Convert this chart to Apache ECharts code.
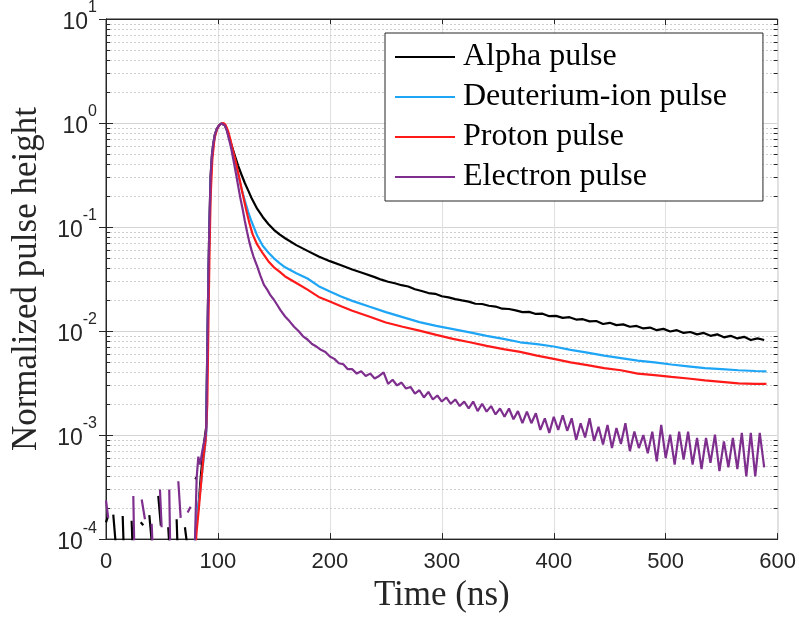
<!DOCTYPE html>
<html><head><meta charset="utf-8">
<script src="https://cdn.jsdelivr.net/npm/echarts@6/dist/echarts.min.js"></script>
<style>html,body{margin:0;padding:0;background:#fff}#c{width:799px;height:618px}</style>
</head><body><div id="c"></div>
<script>
const xTicks = [0, 100, 200, 300, 400, 500, 600];
const seriesNames = ['Alpha pulse', 'Deuterium-ion pulse', 'Proton pulse', 'Electron pulse'];
const seriesColors = ['#000000', '#1ea5f5', '#ff1a1a', '#7e2f8e'];

// [time (ns), normalized height]; null = gap (non-positive sample)
const alphaPulse = [
[0,1.45e-4],[1.5,1.62e-4],[3,null],
[6.5,1.72e-4],[9.5,7e-5],[11,null],
[14.9,1.67e-4],[16.5,5e-5],[19,null],
[22.9,1.5e-4],[24.5,5e-5],[27,null],
[31,1.45e-4],[33.3,1.36e-4],[35,null],
[38.7,1.7e-4],[42.5,6e-5],[44,null],
[46.7,2.6e-4],[49,1.35e-4],[51,null],
[55.6,1.3e-4],[57.1,7e-5],[60,null],
[63.1,1.55e-4],[64.6,5e-5],[67,null],
[70.5,1.3e-4],[73,8e-5],[76,null],
[79.5,3.9e-4],[81,3.8e-4],[81.8,null],
[82.4,1.9e-4],[84.5,3.8e-4],[87,7.5e-4],[89.5,1.2e-3],[90.5,7e-3],[91.5,0.035],[92.3,0.1],[93.4,0.3],[94.5,0.47],[95.8,0.63],[97.3,0.78],[99,0.88],[101,0.95],[103,0.99],[104,1.0],[106,0.96],[108,0.86],[110,0.72],[112,0.62],[115,0.49],[118,0.39],[121,0.32],[124,0.265],[127,0.225],[130,0.19],[135,0.15],[140,0.125],[145,0.107],[150,0.094],[155,0.085],[160,0.078],[170,0.067],[180,0.059],[190,0.052],[200,0.047],[210,0.043],[220,0.039],[230,0.036],[240,0.033],
[246,0.0312],[252,0.0298],[258,0.0288],[264,0.0276],[270,0.0268],[276,0.0252],[282,0.0243],[288,0.0232],[294,0.0228],[300,0.0216],[306,0.0211],[312,0.0203],[318,0.0197],[324,0.0192],[330,0.0183],[336,0.0182],[342,0.0175],[348,0.0172],[354,0.0164],[360,0.0163],[366,0.0158],[372,0.0152],[378,0.0153],[384,0.0146],[390,0.0147],[396,0.0139],[402,0.0140],[408,0.0134],[414,0.0136],[420,0.0129],[426,0.0130],[432,0.0124],[438,0.0125],[444,0.0117],[450,0.0120],[456,0.0114],[462,0.0116],[468,0.0110],[474,0.0112],[480,0.0106],[486,0.0108],[492,0.0102],[498,0.0105],[504,0.0099],[510,0.0102],[516,0.0096],[522,0.0098],[528,0.0093],[534,0.0096],[540,0.0090],[546,0.0093],[552,0.0087],[558,0.0090],[564,0.0085],[570,0.0088],[576,0.0082],[582,0.0085],[588,0.0082]
];

const deuteriumPulse = [
[78,5e-5],[80,1.2e-4],[82,1.9e-4],[84,2.8e-4],[86,4.5e-4],[88,7e-4],[89.5,1.0e-3],[90.5,6e-3],[91.5,0.03],[92.4,0.09],[93.5,0.28],[94.7,0.46],[96,0.62],[97.5,0.77],[99,0.87],[101,0.95],[103,0.99],[104.5,1.0],[106,0.97],[108,0.87],[110,0.72],[112,0.6],[115,0.44],[118,0.32],[121,0.235],[124,0.18],[127,0.14],[130,0.113],[135,0.083],[140,0.066],[145,0.057],[150,0.050],[155,0.045],[160,0.041],[170,0.036],[180,0.032],[190,0.027],[200,0.024],[210,0.0215],[220,0.0195],[235,0.0172],[250,0.0152],[265,0.0136],[280,0.0122],[295,0.0112],[310,0.01045],[325,0.0097],[340,0.0090],[355,0.0084],[370,0.0078],[385,0.0075],[400,0.0071],[415,0.0066],[430,0.0062],[445,0.0058],[460,0.0055],[475,0.0052],[490,0.0050],[505,0.00477],[520,0.00458],[535,0.0044],[550,0.0043],[565,0.0042],[580,0.00413],[590,0.0041]
];

const protonPulse = [
[79,6e-5],[81,1.2e-4],[83,2e-4],[85,3.5e-4],[87,6e-4],[89,9e-4],[90.5,2e-3],[91.5,0.012],[92.5,0.06],[93.5,0.2],[95,0.45],[97,0.72],[99,0.86],[101,0.95],[103,0.99],[105,1.0],[107,0.95],[109,0.84],[111,0.7],[113,0.57],[116,0.42],[119,0.3],[122,0.21],[125,0.15],[128,0.11],[131,0.085],[135,0.068],[140,0.056],[145,0.047],[150,0.041],[155,0.0372],[160,0.0335],[170,0.029],[180,0.025],[190,0.0213],[200,0.0192],[210,0.0173],[220,0.0157],[235,0.0138],[250,0.0121],[265,0.011],[280,0.0101],[295,0.0092],[310,0.0084],[325,0.0078],[340,0.0072],[355,0.0067],[370,0.0063],[385,0.0058],[400,0.0054],[415,0.0050],[430,0.0047],[445,0.0044],[460,0.0042],[475,0.0039],[490,0.00377],[505,0.00363],[520,0.0035],[535,0.00336],[550,0.00325],[565,0.00314],[580,0.00311],[590,0.0031]
];

const electronPulse = [
[0,2.35e-4],[2,1.6e-4],[4,null],
[24.4,2.6e-4],[26,3e-5],[28,null],
[31.9,2.4e-4],[34.8,1.55e-4],[37,null],
[40.8,1.4e-4],[42.5,5e-5],[45,null],
[48.2,3.0e-4],[49.7,1.3e-4],[52,null],
[56.5,3.0e-4],[58,3e-5],[61,null],
[64.6,3.6e-4],[66.7,1.6e-4],[69,null],
[72.9,1.8e-4],[75.6,2.05e-4],[77,null],
[78.5,4e-5],[81,3.9e-4],[82.5,6.2e-4],[84,5.2e-4],[86,7e-4],[88,9e-4],[89.5,1.1e-3],[90.5,7e-3],[91.5,0.035],[92.3,0.1],[93.4,0.3],[94.5,0.47],[95.8,0.63],[97.3,0.78],[99,0.88],[101,0.95],[103,0.99],[104,1.0],[106,0.95],[108,0.84],[110,0.69],[112,0.56],[114,0.43],[116,0.33],[118,0.25],[120,0.19],[122,0.15],[124,0.115],[126,0.09],[128,0.072],[130,0.06],[132,0.051],[135,0.042],[138,0.034],[141,0.028],[144,0.025],[147,0.022],[150,0.02],[153,0.0178],[156,0.0158],
[160,0.0138],[164,0.0124],[168,0.0110],[172,0.0100],[176,0.0089],[180,0.0083],[184,0.0075],[188,0.0071],[192,0.0066],[196,0.0063],[200,0.0057],[204,0.0054],[208,0.0049],[212,0.0048],[216,0.0043],[220,0.0043],[224,0.0039],[228,0.0041],[232,0.0037],[236,0.0039],[240,0.0035],[244,0.0037],[248,0.0040],[252,0.0031],[256,0.0034],[260,0.0030],[264,0.0032],[268,0.0028],[272,0.0029],[276,0.0025],[280,0.0027],[284,0.0023],[288,0.0026],[292,0.0022],[296,0.0024],[300,0.0021],[304,0.0023],[308,0.0020],[312,0.0022],[316,0.0019],[320,0.0021],[324,0.0018],[328,0.0021],[332,0.0017],[336,0.0020],[340,0.00168],[344,0.0019],[348,0.00158],[352,0.0018],[356,0.0015],[360,0.0018],[364,0.00142],[368,0.0017],[372,0.0013],[376,0.00168],[380,0.0013],[384,0.00162],[388,0.00112],[392,0.00145],[396,0.00105],[400,0.0015],[404,0.00112],[408,0.00155],[412,0.0011],[416,0.00145],[420,0.0009],[424,0.0013],[428,0.00095],[432,0.00145],[436,0.00088],[440,0.0012],[444,0.00081],[448,0.00125],[452,0.00075],[456,0.00117],[460,0.00082],[464,0.0013],[468,0.0007],[472,0.00108],[476,0.00075],[480,0.001],[484,0.00067],[488,0.00108],[492,0.00056],[496,0.00125],[500,0.0006],[504,0.00101],[508,0.00052],[512,0.00108],[516,0.00058],[520,0.00108],[524,0.00052],[528,0.00094],[532,0.00047],[536,0.00094],[540,0.00054],[544,0.00101],[548,0.00045],[552,0.00087],[556,0.00049],[560,0.00094],[564,0.00047],[568,0.00105],[572,0.0004],[576,0.00105],[580,0.0004],[584,0.00105],[588,0.00049]
];

const pulses = [alphaPulse, deuteriumPulse, protonPulse, electronPulse];

// log-axis minor grid positions (2..9 x 10^n)
const minorGrid = [];
for (let e = -4; e <= 0; e++) for (let k = 2; k <= 9; k++) minorGrid.push([0, k * Math.pow(10, e)]);

const axisColor = '#262626';
const chart = echarts.init(document.getElementById('c'), null, { renderer: 'canvas' });

const lineSeries = pulses.map((pts, i) => ({
  name: seriesNames[i],
  type: 'line',
  data: pts.map(p => [p[0], p[1] === null ? '-' : p[1]]),
  showSymbol: false,
  symbol: 'none',
  connectNulls: false,
  clip: true,
  z: 3 + i,
  color: seriesColors[i],
  lineStyle: { width: 2.2, color: seriesColors[i] },
  animation: false
}));

chart.setOption({
  animation: false,
  backgroundColor: '#ffffff',
  grid: { left: 106, right: 21, top: 17, bottom: 76, show: true, borderColor: axisColor, borderWidth: 1, backgroundColor: 'transparent' },
  legend: {
    data: seriesNames,
    orient: 'vertical',
    left: 385, top: 33,
    icon: 'rect', itemWidth: 60, itemHeight: 2, itemGap: 8,
    backgroundColor: '#ffffff', borderColor: axisColor, borderWidth: 1, borderRadius: 0,
    padding: [8, 36, 8, 10],
    textStyle: { fontFamily: 'Liberation Serif', fontSize: 32, lineHeight: 30, color: '#000', padding: [0, 0, 0, 3] },
    selectedMode: false
  },
  xAxis: [{
    type: 'value', min: 0, max: 600, interval: 100,
    name: 'Time (ns)', nameLocation: 'middle', nameGap: 36,
    nameTextStyle: { fontFamily: 'Liberation Serif', fontSize: 35, color: axisColor },
    axisLine: { show: true, lineStyle: { color: axisColor, width: 1 } },
    axisTick: { show: true, inside: true, length: 6, lineStyle: { color: axisColor } },
    axisLabel: { fontFamily: 'Liberation Sans', fontSize: 22, color: axisColor, margin: 12,
      customValues: xTicks },
    splitLine: { show: true, lineStyle: { color: '#e0e0e0', width: 1 } }
  }, {
    type: 'value', min: 0, max: 600, interval: 100, position: 'top',
    axisLine: { show: true, lineStyle: { color: axisColor } },
    axisTick: { show: true, inside: true, length: 6, lineStyle: { color: axisColor } },
    axisLabel: { show: false }, splitLine: { show: false }
  }],
  yAxis: [{
    type: 'log', logBase: 10, min: 1e-4, max: 10,
    name: 'Normalized pulse height', nameLocation: 'middle', nameGap: 62,
    nameTextStyle: { fontFamily: 'Liberation Serif', fontSize: 35, color: axisColor },
    axisLine: { show: true, lineStyle: { color: axisColor } },
    axisTick: { show: true, inside: true, length: 7, lineStyle: { color: axisColor } },
    axisLabel: {
      margin: 9, padding: [0, 0, 4, 0],
      formatter: function (v) { const e = Math.round(Math.log10(v)); return '{b|10}{s|' + e + '}'; },
      rich: {
        b: { fontFamily: 'Liberation Sans', fontSize: 23, color: axisColor, lineHeight: 34, verticalAlign: 'bottom' },
        s: { fontFamily: 'Liberation Sans', fontSize: 16, color: axisColor, lineHeight: 14, verticalAlign: 'top' }
      }
    },
    splitLine: { show: true, lineStyle: { color: '#d4d4d4', width: 1 } }
  }, {
    type: 'log', logBase: 10, min: 1e-4, max: 10, position: 'right',
    axisLine: { show: true, lineStyle: { color: axisColor } },
    axisTick: { show: true, inside: true, length: 7, lineStyle: { color: axisColor } },
    axisLabel: { show: false }, splitLine: { show: false }
  }],
  series: [{
    type: 'custom',
    name: 'minor-grid',
    silent: true,
    z: 1,
    xAxisIndex: 0, yAxisIndex: 0,
    data: minorGrid,
    renderItem: function (params, api) {
      const cs = params.coordSys;
      const y = Math.round(api.coord([0, api.value(1)])[1]) + 0.5;
      return { type: 'group', children: [
        { type: 'line', shape: { x1: cs.x, y1: y, x2: cs.x + cs.width, y2: y }, style: { stroke: '#cfcfcf', lineWidth: 1, lineDash: [2, 2] } },
        { type: 'line', shape: { x1: cs.x, y1: y, x2: cs.x + 4, y2: y }, style: { stroke: axisColor, lineWidth: 1 } },
        { type: 'line', shape: { x1: cs.x + cs.width - 4, y1: y, x2: cs.x + cs.width, y2: y }, style: { stroke: axisColor, lineWidth: 1 } }
      ] };
    }
  }].concat(lineSeries)
});
</script></body></html>
